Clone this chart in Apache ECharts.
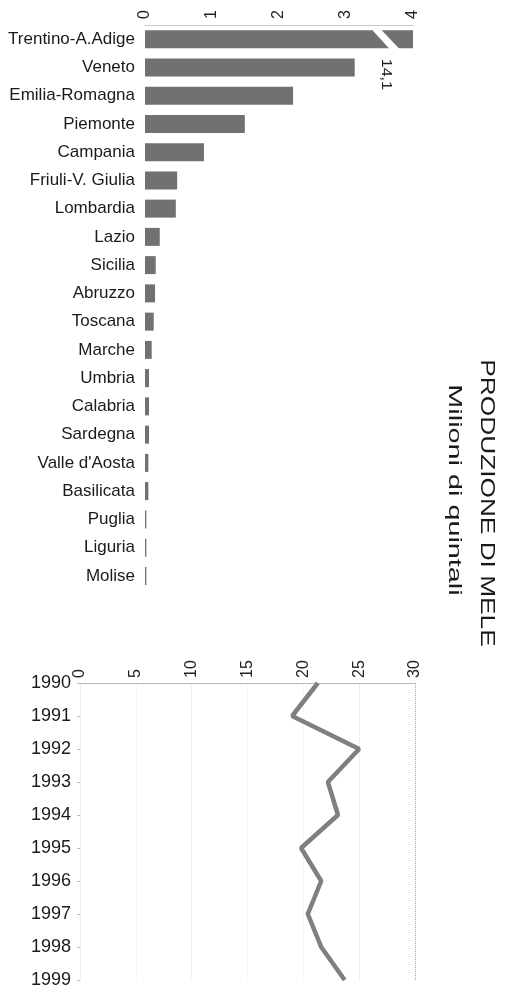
<!DOCTYPE html>
<html>
<head>
<meta charset="utf-8">
<script src="https://cdn.jsdelivr.net/npm/echarts@6/dist/echarts.min.js"></script>
<style>
html, body { margin: 0; padding: 0; background: #fff; }
#main { width: 508px; height: 992px; }
</style>
</head>
<body>
<div id="main"></div>
<script>
// produzione per regione (milioni di quintali)
var regioni = ['Trentino-A.Adige', 'Veneto', 'Emilia-Romagna', 'Piemonte', 'Campania',
	'Friuli-V. Giulia', 'Lombardia', 'Lazio', 'Sicilia', 'Abruzzo', 'Toscana', 'Marche',
	'Umbria', 'Calabria', 'Sardegna', "Valle d'Aosta", 'Basilicata', 'Puglia', 'Liguria', 'Molise'];
var produzione = [14.1, 3.13, 2.21, 1.49, 0.88, 0.48, 0.46, 0.22, 0.16, 0.15, 0.13, 0.10,
	0.06, 0.06, 0.06, 0.05, 0.05, 0.02, 0.02, 0.02];
var ticksRegioni = [0, 1, 2, 3, 4];

// andamento nazionale
var anni = ['1990', '1991', '1992', '1993', '1994', '1995', '1996', '1997', '1998', '1999'];
var totale = [21.3, 19.0, 25.0, 22.2, 23.1, 19.8, 21.6, 20.4, 21.6, 23.7];
var ticksAnni = [0, 5, 10, 15, 20, 25, 30];

var FONT = '"Liberation Sans", Arial, sans-serif';
var myChart = echarts.init(document.getElementById('main'));

var option = {
	backgroundColor: '#fff',
	animation: false,
	grid: [
		{ left: 145, top: 25, width: 268, height: 565 },
		{ left: 80, top: 683, width: 335, height: 297 }
	],
	xAxis: [
		{
			gridIndex: 0, type: 'value', position: 'top',
			min: ticksRegioni[0], max: ticksRegioni[ticksRegioni.length - 1], interval: 1,
			axisLine: { show: true, lineStyle: { color: '#c8c8c8', width: 1 } },
			axisTick: { show: false },
			splitLine: { show: false },
			axisLabel: { rotate: -90, margin: 6, fontSize: 16, color: '#222', fontFamily: FONT }
		},
		{
			gridIndex: 1, type: 'value', position: 'top',
			min: ticksAnni[0], max: ticksAnni[ticksAnni.length - 1], interval: 5,
			axisLine: { show: true, lineStyle: { color: '#b8b8b8', width: 1 } },
			axisTick: { show: false },
			splitLine: { show: true, lineStyle: { type: 'dotted', color: ['#e0e0e0', '#eeeeee', '#e4e4e4', '#eeeeee', '#eeeeee', '#dddddd', '#a8a8a8'], width: 1 } },
			axisLabel: { rotate: -90, margin: 5, fontSize: 16, color: '#222', fontFamily: FONT }
		}
	],
	yAxis: [
		{
			gridIndex: 0, type: 'category', data: regioni, inverse: true,
			axisLine: { show: false },
			axisTick: { show: false },
			axisLabel: { margin: 10, fontSize: 17, color: '#1a1a1a', fontFamily: FONT }
		},
		{
			gridIndex: 1, type: 'category', data: anni, inverse: true, boundaryGap: false,
			axisLine: { show: false },
			axisTick: { show: true, length: 3, lineStyle: { color: '#bbb' } },
			axisLabel: { margin: 9, fontSize: 18, color: '#1a1a1a', fontFamily: FONT }
		}
	],
	series: [
		{
			name: 'Regioni', type: 'bar', xAxisIndex: 0, yAxisIndex: 0,
			data: produzione, barWidth: 18, clip: true,
			itemStyle: { color: '#717171' }
		},
		{
			name: 'Italia', type: 'line', xAxisIndex: 1, yAxisIndex: 1,
			data: totale, symbol: 'none',
			lineStyle: { color: '#7f7f7f', width: 4.5 }
		}
	]
};
myChart.setOption(option);

// interruzione della prima barra e valore reale
var p = myChart.convertToPixel({ xAxisIndex: 0, yAxisIndex: 0 }, [3.4, 0]);
var q = myChart.convertToPixel({ xAxisIndex: 0, yAxisIndex: 0 }, [3.6, 1]);
myChart.setOption({
	graphic: [
		{
			type: 'polygon',
			shape: { points: [[p[0] - 3, p[1] - 12], [p[0] + 6, p[1] - 12], [p[0] + 27, p[1] + 10], [p[0] + 17, p[1] + 10]] },
			style: { fill: '#fff' }, z: 100
		},
		{
			type: 'text', x: q[0], y: q[1] + 7, rotation: -Math.PI / 2, scaleX: 1.15, z: 100,
			style: { text: produzione[0].toString().replace('.', ','), fontSize: 14, fontFamily: FONT, fill: '#222',
				align: 'center', verticalAlign: 'middle', textAlign: 'center', textVerticalAlign: 'middle' }
		},
		{
			type: 'text', x: 487, y: 503, rotation: -Math.PI / 2, scaleX: 1.25, z: 100,
			style: { text: 'PRODUZIONE DI MELE', fontSize: 21, fontFamily: FONT, fill: '#1a1a1a',
				align: 'center', verticalAlign: 'middle', textAlign: 'center', textVerticalAlign: 'middle' }
		},
		{
			type: 'text', x: 454, y: 490, rotation: -Math.PI / 2, scaleX: 1.6, z: 100,
			style: { text: 'Milioni di quintali', fontSize: 18, fontFamily: FONT, fill: '#1a1a1a',
				align: 'center', verticalAlign: 'middle', textAlign: 'center', textVerticalAlign: 'middle' }
		}
	]
});
</script>
</body>
</html>
